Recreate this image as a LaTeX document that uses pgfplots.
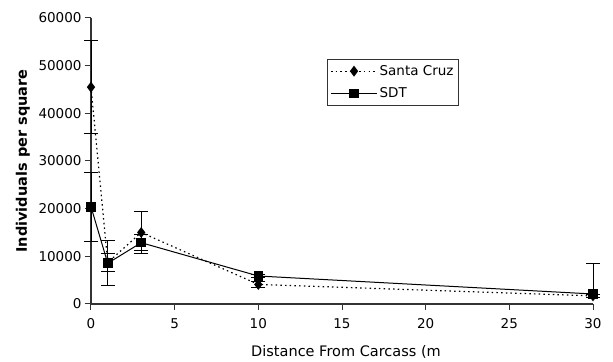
\documentclass[border=0pt]{standalone}
\usepackage{fontspec}
\setmainfont{DejaVu Sans}
\setsansfont{DejaVu Sans}
\usepackage{pgfplots}
\pgfplotsset{compat=1.18}
\begin{document}
\begin{tikzpicture}
\begin{axis}[
  scale only axis,
  width=502pt, height=286pt,
  xmin=0, xmax=30, ymin=0, ymax=60000,
  axis lines*=left,
  axis line style={line width=1.1pt, black!80},
  xtick={0,5,10,15,20,25,30},
  ytick={0,10000,20000,30000,40000,50000,60000},
  scaled y ticks=false,
  /pgf/number format/assume math mode=true,
  /pgf/number format/1000 sep={},
  tick align=outside,
  major tick length=6pt,
  tick style={line width=1pt, black!80},
  every tick label/.append style={font=\fontsize{13.5}{15}\selectfont},
  xticklabel style={yshift=-5pt},
  xlabel={Distance From Carcass (m},
  ylabel={\bfseries Individuals per square},
  xlabel style={at={(axis description cs:0.508,-0.168)}, anchor=center, font=\fontsize{14.5}{16}\selectfont},
  ylabel style={at={(axis description cs:-0.1355,0.5)}, anchor=center, font=\fontsize{14.5}{16}\selectfont},
  clip=false,
  legend cell align=left,
  legend style={at={(axis description cs:0.470,0.857)}, anchor=north west,
    draw=black!80, line width=1pt, font=\fontsize{13.5}{15}\selectfont,
    inner xsep=3pt, inner ysep=4pt, row sep=7pt},
  legend image code/.code={
    \draw[#1] (0pt,0pt) -- (46pt,0pt);
    \draw[mark repeat=2,mark phase=2,#1] plot coordinates {(0pt,0pt) (23pt,0pt) (46pt,0pt)};
  },
  error bars/y dir=both,
  error bars/y explicit,
  error bars/error bar style={solid, line width=0.9pt, black},
  error bars/error mark options={rotate=90, mark size=7pt, solid, line width=0.9pt, black},
]
\addplot[black, line width=1.2pt, dash pattern=on 1.5pt off 3.2pt, mark=diamond*, mark size=4.5pt, mark options={solid}]
  coordinates {
   (0,45500) +- (0,9700)
   (1,8700) +- (0,1950)
   (3,15000) +- (0,4400)
   (10,4100) +- (0,700)
   (30,1700) +- (0,300)
  };
\addlegendentry{Santa Cruz}
\addplot[black, line width=1pt, solid, mark=square*, mark size=4.3pt, mark options={solid}]
  coordinates {
   (0,20400) +- (0,7200)
   (1,8540) +- (0,4750)
   (3,12860) +- (0,1680)
   (10,5870) +- (0,400)
   (30,2100) += (0,6400) -= (0,0)
  };
\addlegendentry{SDT}
\end{axis}
\path[use as bounding box] ([shift={(-91pt,-58pt)}]current axis.south west) rectangle ([shift={(20pt,18pt)}]current axis.north east);
\end{tikzpicture}
\end{document}
